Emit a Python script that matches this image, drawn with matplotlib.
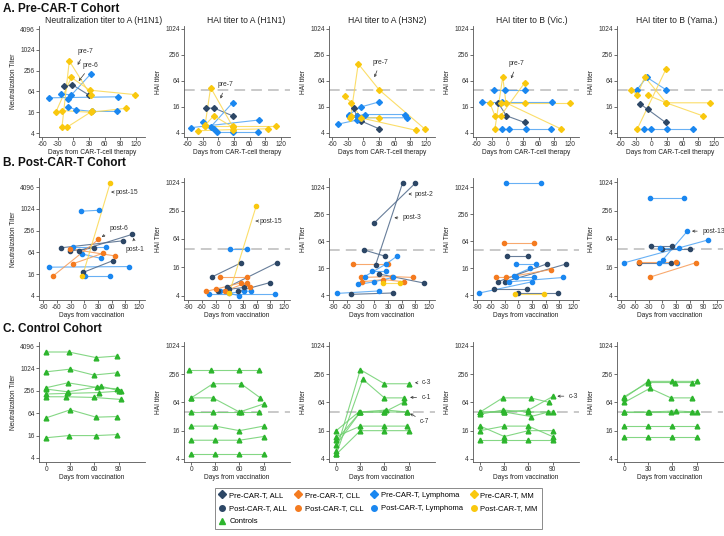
import matplotlib
matplotlib.use("Agg")
import matplotlib.pyplot as plt
from matplotlib.lines import Line2D

plt.rcParams['font.family'] = ['Liberation Sans', 'DejaVu Sans']

# --- colours ---
COLORS = {'ALL': '#2d4766', 'CLL': '#f47b20', 'LYM': '#1a87f0', 'MM': '#f9c80e', 'CTL': '#2db52d'}
LINE_COLORS = {'ALL': '#4d6788', 'CLL': '#f79a55', 'LYM': '#4ea3f3', 'MM': '#fbd850', 'CTL': '#6fd06f'}

# --- data: (group, days, titers) per subject ---
A_NEUT = [
    ('ALL', [-18, -2, 30], [90, 100, 50]),
    ('LYM', [-47, 86], [42, 45]),
    ('LYM', [-24, -4], [56, 50]),
    ('LYM', [-11, 33], [39, 205]),
    ('LYM', [-10, 5, 35, 83], [23, 19, 17, 17]),
    ('MM', [-22, -8, 33], [6, 490, 50]),
    ('MM', [-34, -4, 31, 118], [16, 163, 70, 52]),
    ('MM', [-22, 33, 101], [18, 16, 21]),
    ('MM', [-12, 35], [6, 17]),
]
A_H1N1 = [
    ('ALL', [-23, -8, 27], [15, 15, 10]),
    ('LYM', [-53, 78], [5.3, 8]),
    ('LYM', [-30, -9], [7.2, 5]),
    ('LYM', [-15, 27], [5.5, 20]),
    ('LYM', [-2, 27, 76], [4.2, 4.2, 4.2]),
    ('MM', [-26, -15, 27], [5.7, 45, 5.7]),
    ('MM', [-26, -9, 27], [6, 10, 5.5]),
    ('MM', [-39, 27, 95], [4.5, 4.8, 5]),
    ('MM', [-26, 111], [5.7, 5.7]),
]
A_H3N2 = [
    ('ALL', [-19, -13, -5, 30], [15, 10, 7.6, 5]),
    ('LYM', [-28, -5, 30], [10.7, 16, 21]),
    ('LYM', [-49, -12], [6.4, 8]),
    ('LYM', [-12, 2, 79], [10, 10.7, 10.7]),
    ('LYM', [-28, -5, 83], [10, 9, 9]),
    ('MM', [-25, -10, 30, 117], [9, 160, 40, 5]),
    ('MM', [-36, -23, -5, 30], [28, 20, 9, 9]),
    ('MM', [-23, 101], [10, 4.6]),
]
A_BVIC = [
    ('ALL', [-18, -2, 33], [20, 10, 7]),
    ('LYM', [-26, -5, 34], [40, 40, 40]),
    ('LYM', [-49, -11, 86], [21, 21, 21]),
    ('LYM', [-11, 3, 35, 83], [5, 5, 5, 5]),
    ('MM', [-24, -9, -3, 102], [5, 80, 20, 5]),
    ('MM', [-34, -24, -13, 33], [20, 10, 10, 58]),
    ('MM', [-13, 33, 119], [20, 20, 20]),
]
A_BYAMA = [
    ('ALL', [-22, -7, 27], [19, 14, 7]),
    ('LYM', [-28, -9, 28], [40, 78, 40]),
    ('LYM', [-15, 0, 30, 79], [5, 5, 5, 5]),
    ('MM', [-39, -27, -13, 28, 98], [40, 30, 80, 20, 10]),
    ('MM', [-27, 28], [5, 122]),
    ('MM', [-7, 28, 113], [30, 20, 20]),
]

B_NEUT = [
    ('LYM', [-7, 33], [880, 935]),
    ('LYM', [-78, 99], [25, 26]),
    ('LYM', [2, 57], [14, 14]),
    ('LYM', [-25, 48], [92, 92]),
    ('LYM', [-5, 36], [58, 44]),
    ('ALL', [-50, 85], [86, 134]),
    ('ALL', [-12, 104], [70, 200]),
    ('ALL', [-32, 22], [70, 85]),
    ('ALL', [-2, 63], [18, 38]),
    ('CLL', [-69, 31], [14, 146]),
    ('CLL', [-31, 68], [80, 51]),
    ('CLL', [-25, 40], [31, 60]),
    ('MM', [-4, 57], [14, 5400]),
]
B_H1N1 = [
    ('LYM', [1, 39], [40, 40]),
    ('LYM', [-45, 100], [4.3, 4.3]),
    ('LYM', [-20, 22], [5, 4]),
    ('LYM', [0, 33, 48], [4.5, 5, 5]),
    ('ALL', [-38, 26], [10, 20]),
    ('ALL', [-5, 104], [6, 20]),
    ('ALL', [20, 89], [5, 7.6]),
    ('ALL', [-25, 0, 33], [5, 5.5, 6]),
    ('CLL', [-20, 39], [10, 10]),
    ('CLL', [-10, 38], [5, 7.6]),
    ('CLL', [-50, -30, 25, 45], [5, 5.5, 7.5, 6]),
    ('MM', [0, 59], [4.5, 320]),
]
B_H3N2 = [
    ('ALL', [0, 90], [165, 1280]),
    ('ALL', [3, 62], [19, 1280]),
    ('ALL', [-22, 23], [41, 30]),
    ('ALL', [10, 109], [12, 7.5]),
    ('ALL', [-50, 40], [4.2, 4.5]),
    ('CLL', [-47, 30], [20, 20]),
    ('CLL', [-28, 38, 85], [10, 10.5, 10]),
    ('CLL', [-26, 20, 65], [8, 9, 8]),
    ('LYM', [-21, 26, 50], [10.5, 20, 30]),
    ('LYM', [-4, 25], [14, 14]),
    ('LYM', [-35, 0, 40], [7, 8, 10]),
    ('LYM', [-82, 10], [4.4, 5]),
    ('MM', [20, 57], [7.5, 7.5]),
]
B_BVIC = [
    ('LYM', [-26, 49], [1280, 1280]),
    ('CLL', [-31, 34], [60, 60]),
    ('ALL', [-24, 21], [30, 30]),
    ('LYM', [-4, 38], [20, 20]),
    ('LYM', [-10, 26], [11, 16]),
    ('ALL', [-30, 105], [8, 20]),
    ('ALL', [-45, 62], [8, 20]),
    ('CLL', [-49, -26, 71], [10, 10, 15]),
    ('LYM', [-20, 99], [8, 10]),
    ('LYM', [-4, 34], [10, 10]),
    ('LYM', [-85, 30], [4.5, 8]),
    ('ALL', [-53, 20], [5.5, 5.5]),
    ('ALL', [0, 86], [4.5, 4.5]),
    ('MM', [-7, 56], [4.3, 4.3]),
]
B_BYAMA = [
    ('LYM', [-27, 48], [480, 480]),
    ('LYM', [1, 55], [23, 94]),
    ('LYM', [-83, 100], [20, 61]),
    ('ALL', [-25, 22], [45, 45]),
    ('ALL', [-1, 61], [40, 40]),
    ('ALL', [-50, 20], [20, 20]),
    ('LYM', [-5, 37], [42, 42]),
    ('LYM', [-6, 33], [20, 20]),
    ('CLL', [-50, 31], [21, 21]),
    ('CLL', [-26, 73], [10, 20]),
]

C_NEUT = [
    ('CTL', [0, 28, 62, 88], [2830, 2830, 2000, 2200]),
    ('CTL', [0, 30, 59, 88], [830, 980, 680, 780]),
    ('CTL', [0, 27, 63, 88], [310, 420, 315, 290]),
    ('CTL', [0, 27, 68, 93], [285, 240, 340, 250]),
    ('CTL', [0, 26, 66, 90], [210, 218, 230, 250]),
    ('CTL', [0, 25, 59, 93], [177, 177, 170, 150]),
    ('CTL', [0, 30, 62, 88], [48, 79, 50, 52]),
    ('CTL', [0, 28, 62, 88], [14, 16, 16, 17]),
]
C_H1N1 = [
    ('CTL', [-3, 24, 59, 85], [320, 320, 320, 320]),
    ('CTL', [0, 27, 62, 86], [80, 160, 160, 80]),
    ('CTL', [0, 27, 60, 91], [80, 80, 40, 60]),
    ('CTL', [0, 27, 62, 85], [40, 40, 40, 40]),
    ('CTL', [0, 30, 60, 90], [20, 20, 16, 20]),
    ('CTL', [0, 30, 60, 90], [10, 10, 10, 12]),
    ('CTL', [0, 30, 60, 90], [5, 5, 5, 5]),
]
C_H3N2 = [
    ('CTL', [0, 30, 60, 90], [6, 320, 160, 160]),
    ('CTL', [0, 33, 60, 85], [5, 200, 80, 80]),
    ('CTL', [0, 30, 62, 88], [8, 40, 44, 40]),
    ('CTL', [0, 30, 60, 85], [10, 40, 40, 66]),
    ('CTL', [0, 28, 60, 88], [16, 40, 40, 40]),
    ('CTL', [0, 30, 60, 88], [12, 20, 20, 20]),
    ('CTL', [0, 30, 60, 90], [5, 16, 16, 16]),
]
C_BVIC = [
    ('CTL', [0, 28, 63, 86], [40, 80, 80, 64]),
    ('CTL', [0, 30, 60, 91], [40, 40, 44, 87]),
    ('CTL', [0, 30, 63, 85], [40, 40, 32, 40]),
    ('CTL', [0, 28, 60, 90], [36, 44, 40, 40]),
    ('CTL', [0, 30, 60, 90], [20, 12, 16, 16]),
    ('CTL', [0, 30, 60, 90], [16, 20, 20, 12]),
    ('CTL', [0, 30, 60, 90], [10, 10, 10, 10]),
]
C_BYAMA = [
    ('CTL', [0, 30, 60, 90], [80, 180, 180, 180]),
    ('CTL', [0, 30, 63, 85], [85, 170, 170, 170]),
    ('CTL', [0, 32, 58, 85], [64, 128, 80, 80]),
    ('CTL', [0, 30, 58, 85], [40, 40, 40, 40]),
    ('CTL', [0, 31, 64, 91], [40, 40, 42, 40]),
    ('CTL', [0, 30, 60, 90], [20, 20, 20, 20]),
    ('CTL', [0, 30, 60, 90], [12, 12, 12, 12]),
]

# annotations: (label, tip_x, tip_y, text_x, text_y)
NOTES = {
    (0, 0): [('pre-7', 8, 375, 22, 916), ('pre-6', 10, 128, 33, 357)],
    (0, 1): [('pre-7', 4, 25, 13, 52)],
    (0, 2): [('pre-7', 21, 78, 32, 171)],
    (0, 3): [('pre-7', 7, 73, 18, 160)],
    (1, 0): [('post-15', 59, 2980, 93, 2980), ('post-6', 38, 173, 76, 292), ('post-1', 108, 162, 111, 79)],
    (1, 1): [('post-15', 58, 154, 90, 154)],
    (1, 2): [('post-2', 75, 730, 109, 730), ('post-3', 44, 215, 83, 215)],
    (1, 4): [('post-13', 65, 94, 112, 94)],
    (2, 2): [('c-3', 98, 168, 112, 168), ('c-1', 92, 82, 112, 82), ('c-7', 92, 37, 110, 25)],
    (2, 3): [('c-3', 96, 87, 116, 87)],
}

PANELS = [
    [A_NEUT, A_H1N1, A_H3N2, A_BVIC, A_BYAMA],
    [B_NEUT, B_H1N1, B_H3N2, B_BVIC, B_BYAMA],
    [C_NEUT, C_H1N1, C_H3N2, C_BVIC, C_BYAMA],
]
TITLES = ['Neutralization titer to A (H1N1)', 'HAI titer to A (H1N1)', 'HAI titer to A (H3N2)',
          'HAI titer to B (Vic.)', 'HAI titer to B (Yama.)']
TITLE_X = [104, 246, 387, 532, 677]
SECTIONS = ['A. Pre-CAR-T Cohort', 'B. Post-CAR-T Cohort', 'C. Control Cohort']
SECTION_Y = [9, 163, 329]
XLABELS = ['Days from CAR-T-cell therapy', 'Days from vaccination', 'Days from vaccination']
HAI_LABELS = ['HAI titer', 'HAI Titer', 'HAI titer']
XTICKS = [[-60, -30, 0, 30, 60, 90, 120], [-90, -60, -30, 0, 30, 60, 90, 120], [0, 30, 60, 90]]
XLIMS = [(-66, 137), (-99, 133), (-9, 123)]
MARKERS = ['D', 'o', '^']
# log2 y limits per panel
YLIMS = [
    [(1.63, 12.29), (1.69, 10.23), (1.69, 10.23), (1.69, 10.23), (1.69, 10.23)],
    [(1.63, 12.83), (1.7, 10.3), (1.65, 10.7), (1.65, 10.7), (1.7, 10.3)],
    [(1.64, 12.36), (1.78, 10.28), (1.78, 10.28), (1.78, 10.28), (1.78, 10.28)],
]
ROW_BOX = [(26, 137), (178, 300), (342, 462)]  # top, bottom in px
COL_LEFT = [39, 184, 329, 473, 617]
W, H = 724, 536
AX_W = 106

fig = plt.figure(figsize=(W / 100, H / 100), dpi=100)
AXC = '#555555'

for r in range(3):
    top, bot = ROW_BOX[r]
    for c in range(5):
        ax = fig.add_axes([COL_LEFT[c] / W, 1 - bot / H, AX_W / W, (bot - top) / H])
        for grp, days, vals in PANELS[r][c]:
            ax.plot(days, vals, '-', color=LINE_COLORS[grp], lw=0.8, alpha=0.85, zorder=2)
            ax.plot(days, vals, MARKERS[r], color=COLORS[grp], ms=3 if r < 2 else 3.4,
                    mec=COLORS[grp], ls='none', zorder=3)
        ax.set_yscale('log', base=2)
        lo, hi = YLIMS[r][c]
        ax.set_ylim(2 ** lo, 2 ** hi)
        if c == 0:
            yt = [4, 16, 64, 256, 1024, 4096]
        else:
            yt = [4, 16, 64, 256, 1024]
            ax.axhline(40, color='#bbbbbb', lw=1.1, ls=(0, (7, 4)), zorder=1)
        ax.set_yticks(yt)
        ax.set_yticklabels([str(v) for v in yt])
        ax.minorticks_off()
        ax.set_xlim(*XLIMS[r])
        ax.set_xticks(XTICKS[r])
        ax.set_xticklabels([str(v) for v in XTICKS[r]])
        ax.tick_params(labelsize=4.8, length=2, width=0.5, pad=1, colors='#333333')
        for s in ['top', 'right']:
            ax.spines[s].set_visible(False)
        for s in ['left', 'bottom']:
            ax.spines[s].set_color(AXC)
            ax.spines[s].set_linewidth(0.6)
        ax.set_xlabel(XLABELS[r], fontsize=4.8, labelpad=0.5, color='#222222')
        ax.set_ylabel('Neutralization Titer' if c == 0 else HAI_LABELS[r], fontsize=4.8,
                      labelpad=2, color='#222222')
        for lab, tx, ty, px, py in NOTES.get((r, c), []):
            ax.annotate(lab, xy=(tx, ty), xytext=(px, py), fontsize=4.9, ha='center', va='center',
                        color='#333333', annotation_clip=False,
                        arrowprops=dict(arrowstyle='->', lw=0.5, color='#333333',
                                        shrinkA=1.5, shrinkB=0, mutation_scale=4))
    fig.text(3 / W, 1 - SECTION_Y[r] / H, SECTIONS[r], fontsize=8.5, fontweight='bold',
             ha='left', va='center', color='#111111')

for c in range(5):
    fig.text(TITLE_X[c] / W, 1 - 20.5 / H, TITLES[c], fontsize=6.2, ha='center', va='center',
             color='#222222')

# legend
def h(marker, key):
    return Line2D([], [], marker=marker, color=COLORS[key], ls='none', ms=4)

handles = [h('D', 'ALL'), h('o', 'ALL'), h('^', 'CTL'),
           h('D', 'CLL'), h('o', 'CLL'),
           h('D', 'LYM'), h('o', 'LYM'),
           h('D', 'MM'), h('o', 'MM')]
labels = ['Pre-CAR-T, ALL', 'Post-CAR-T, ALL', 'Controls',
          'Pre-CAR-T, CLL', 'Post-CAR-T, CLL',
          'Pre-CAR-T, Lymphoma', 'Post-CAR-T, Lymphoma',
          'Pre-CAR-T, MM', 'Post-CAR-T, MM']
leg = fig.legend(handles, labels, ncol=4, loc='center', bbox_to_anchor=(378.5 / W, 1 - 508.5 / H),
                 fontsize=5.5, frameon=True, fancybox=False, edgecolor='#555555',
                 handlelength=0.8, handletextpad=0.5, columnspacing=1.0, labelspacing=0.75,
                 borderpad=0.5)
leg.get_frame().set_linewidth(0.6)

fig.savefig('out.png', dpi=100)
